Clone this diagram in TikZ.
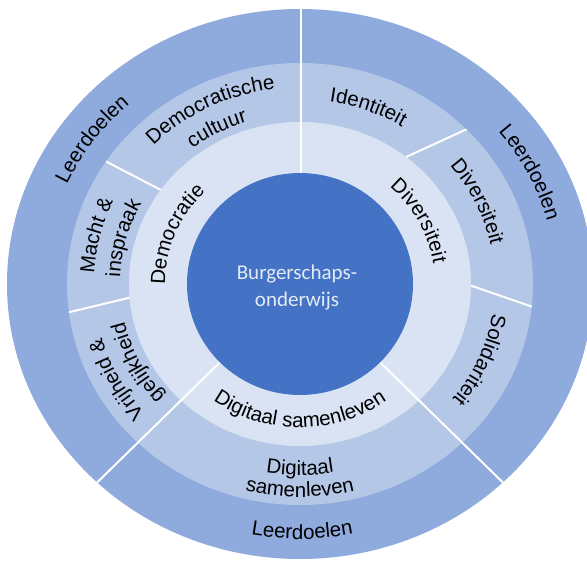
\documentclass[tikz,border=0pt]{standalone}
\usepackage{fontspec}
\setmainfont{Liberation Sans}
\newfontfamily\centerfont{Carlito}
\usetikzlibrary{decorations.text}
\definecolor{ringA}{HTML}{8FAADC}
\definecolor{ringB}{HTML}{B4C7E7}
\definecolor{ringC}{HTML}{DAE3F3}
\definecolor{core}{HTML}{4472C4}
\definecolor{coretext}{HTML}{E4EBF7}
\newcommand\ringfont{\fontsize{20.5}{24}\selectfont}
\newcommand\cwtext[4]{%
  \pgfmathsetmacro\rsa{#3+70}\pgfmathsetmacro\rea{#3-70}%
  \path[decorate,decoration={text along path,text align=center,text color=black,text={|\ringfont|#4}}]
    (\rsa:#1pt and #2pt) arc[start angle=\rsa, end angle=\rea, x radius=#1pt, y radius=#2pt];}
\newcommand\ccwtext[4]{%
  \pgfmathsetmacro\rsa{#3-70}\pgfmathsetmacro\rea{#3+70}%
  \path[decorate,decoration={text along path,text align=center,text color=black,text={|\ringfont|#4}}]
    (\rsa:#1pt and #2pt) arc[start angle=\rsa, end angle=\rea, x radius=#1pt, y radius=#2pt];}
\tikzset{divider/.style={draw=white,line width=2pt}}
\begin{document}
\begin{tikzpicture}[x=1pt,y=1pt]
\useasboundingbox (-300,-279) rectangle (287,284);
\fill[ringA] (0,0) ellipse [x radius=293pt, y radius=275pt];
\fill[ringB] (0,0) ellipse [x radius=233pt, y radius=221pt];
\begin{scope}
  \clip (0,0) ellipse [x radius=233pt, y radius=221pt];
  \draw[divider] (-218,135) -- (-118,83);
  \draw[divider] (93,121) -- (189,165);
  \draw[divider] (146,7) -- (262,-33);
  \draw[divider] (-255,-34) -- (-155,-10);
\end{scope}
\fill[ringC] (0,0) ellipse [x radius=171pt, y radius=162pt];
\begin{scope}
  \clip (0,0) ellipse [x radius=293pt, y radius=275pt];
  \draw[divider] (1,0) -- (1,300);
  \draw[divider] (0,0) -- (-230,-225);
  \draw[divider] (0,0) -- (230,-225);
\end{scope}
\fill[core] (0,0) ellipse [x radius=113pt, y radius=111pt];
\node[font=\centerfont\fontsize{21}{27}\selectfont, text=coretext, align=center] (title) at (-3,-4) {Burgerschaps-\\onderwijs};
% outer ring
\cwtext{256}{241}{145}{Leerdoelen}
\cwtext{256}{241}{26}{Leerdoelen}
\ccwtext{270}{255}{270.5}{Leerdoelen}
% middle ring
\cwtext{206}{196.5}{117}{Democratische}
\cwtext{180}{169.5}{118}{cultuur}
\cwtext{206}{196.5}{166.5}{Macht {\&}}
\cwtext{180}{169.5}{165.5}{inspraak}
\cwtext{206}{196.5}{207.5}{Vrijheid {\&}}
\cwtext{180}{169.5}{206}{gelijkheid}
\cwtext{195}{184.5}{69}{Identiteit}
\cwtext{195}{184.5}{25}{Diversiteit}
\cwtext{195}{184.5}{-23}{Solidariteit}
\ccwtext{202}{191}{270}{Digitaal}
\ccwtext{224}{213}{270}{samenleven}
% inner ring
\cwtext{135}{129.5}{158}{Democratie}
\cwtext{135}{129.5}{28}{Diversiteit}
\ccwtext{149}{143.5}{270}{Digitaal samenleven}
\end{tikzpicture}
\end{document}
